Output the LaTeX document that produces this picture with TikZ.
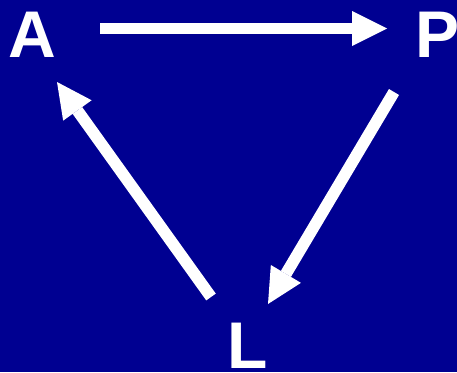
\documentclass[tikz,border=0pt]{standalone}
\usepackage{fontspec}
\setmainfont{Liberation Sans}
\usetikzlibrary{arrows.meta}
\definecolor{bg}{RGB}{0,0,145}
\begin{document}
\begin{tikzpicture}[x=1pt,y=-1pt,
  lbl/.style={text=white,font=\fontsize{66}{66}\selectfont\bfseries,inner sep=0pt,anchor=base west},
  arr/.style={draw=white,line width=11.7pt,-{Triangle[length=35pt,width=35pt,line width=0pt]}}]
\fill[bg] (0,0) rectangle (457,372);
\useasboundingbox (0,0) rectangle (457,372);
\node[lbl] (A) at (8,57) {A};
\node[lbl] (P) at (415,57) {P};
\node[lbl] (L) at (227,368) {L};
\coordinate (ap1) at (100,28.5);
\coordinate (ap2) at (387,28.5);
\coordinate (pl1) at (394,92);
\coordinate (pl2) at (268,304);
\coordinate (la1) at (211,297);
\coordinate (la2) at (57,82);
\draw[arr] (ap1) -- (ap2);
\draw[arr] (pl1) -- (pl2);
\draw[arr] (la1) -- (la2);
\end{tikzpicture}
\end{document}
